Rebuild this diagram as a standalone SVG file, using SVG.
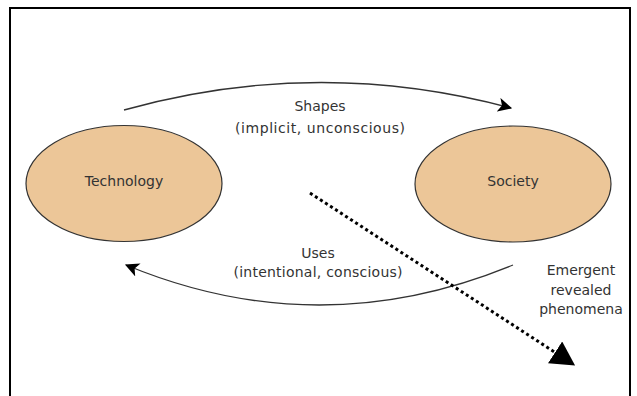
<svg xmlns="http://www.w3.org/2000/svg" width="637" height="396" viewBox="0 0 637 396">
  <style>
    .frame { fill: none; stroke: #000; stroke-width: 2; }
    .node { fill: #ECC698; stroke: #333; stroke-width: 1.2; }
    .lbl { font-family: "DejaVu Sans", "Liberation Sans", sans-serif; font-size: 14px; fill: #333; text-anchor: middle; }
    .arc { fill: none; stroke: #333; stroke-width: 1.3; }
    .dots { fill: none; stroke: #000; stroke-width: 3; stroke-dasharray: 3 3; }
  </style>
  <defs>
    <marker id="barb" markerUnits="userSpaceOnUse" markerWidth="14" markerHeight="14" viewBox="0 0 12 12" refX="11" refY="6" orient="auto-start-reverse">
      <path d="M0,0 L12,6 L0,12 L3,6 z" fill="#000"/>
    </marker>
    <marker id="big" markerUnits="userSpaceOnUse" markerWidth="24" markerHeight="26" viewBox="0 0 22 24" refX="1" refY="12" orient="auto">
      <path d="M0,0 L22,12 L0,24 z" fill="#000"/>
    </marker>
  </defs>
  <rect class="frame" x="10" y="8" width="620" height="400"/>
  <g id="connectors">
    <path class="arc" d="M124,110 Q318,56 511,108" marker-end="url(#barb)"/>
    <path class="arc" d="M126,265 Q319,345 513,265" marker-start="url(#barb)"/>
    <path class="dots" d="M310,193 L556,353" marker-end="url(#big)"/>
  </g>
  <g id="technology">
    <ellipse class="node" cx="124" cy="183.5" rx="98" ry="58"/>
    <text class="lbl" x="124" y="186">Technology</text>
  </g>
  <g id="society">
    <ellipse class="node" cx="513" cy="184" rx="98" ry="58"/>
    <text class="lbl" x="513" y="186">Society</text>
  </g>
  <g id="shapes-label">
    <text class="lbl" x="320" y="111">Shapes</text>
    <text class="lbl" x="320" y="133" textLength="170" lengthAdjust="spacing">(implicit, unconscious)</text>
  </g>
  <g id="uses-label">
    <text class="lbl" x="318" y="258">Uses</text>
    <text class="lbl" x="318" y="277" textLength="169" lengthAdjust="spacing">(intentional, conscious)</text>
  </g>
  <g id="emergent-label">
    <text class="lbl" x="581" y="275">Emergent</text>
    <text class="lbl" x="581" y="295">revealed</text>
    <text class="lbl" x="581" y="314">phenomena</text>
  </g>
</svg>
